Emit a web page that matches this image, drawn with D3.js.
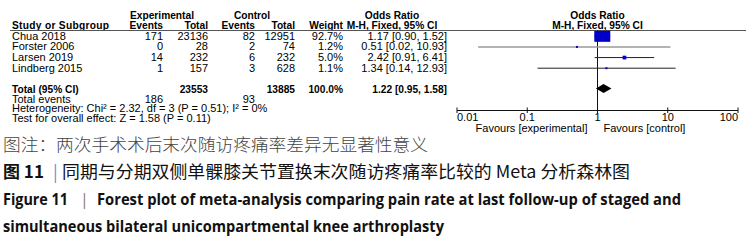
<!doctype html>
<html lang="zh">
<head>
<meta charset="utf-8">
<title>Forest plot</title>
<script src="https://cdn.jsdelivr.net/npm/d3@7/dist/d3.min.js"></script>
<style>
	body { margin: 0; background: #fff; }
	.tbl { font-family: "Liberation Sans", Arial, sans-serif; font-size: 11px; fill: #000; }
	.bold { font-weight: bold; font-size: 10.2px; }
	.cap { font-family: "Noto Sans CJK SC", sans-serif; }
	.en { font-family: "Open Sans", "Liberation Sans", sans-serif; font-weight: bold; }
</style>
</head>
<body>
<div id="viz"></div>
<script>

var studies = ["Chua 2018", "Forster 2006", "Larsen 2019", "Lindberg 2015"];
var expEvents = [171, 0, 14, 1];
var expTotal = [23136, 28, 232, 157];
var ctrlEvents = [82, 2, 6, 3];
var ctrlTotal = [12951, 74, 232, 628];
var weights = [92.7, 1.2, 5.0, 1.1];
var oddsRatio = [1.17, 0.51, 2.42, 1.34];
var ciLow = [0.90, 0.02, 0.91, 0.14];
var ciHigh = [1.52, 10.93, 6.41, 12.93];

var totalN = [23553, 13885];
var totalEvents = [186, 93];
var totalOR = [1.22, 0.95, 1.58];   // estimate, low, high
var heterogeneity = "Heterogeneity: Chi\u00b2 = 2.32, df = 3 (P = 0.51); I\u00b2 = 0%";
var overallTest = "Test for overall effect: Z = 1.58 (P = 0.11)";
var tickValues = [0.01, 0.1, 1, 10, 100];

var captions = [
	"图注：两次手术术后末次随访疼痛率差异无显著性意义",
	"同期与分期双侧单髁膝关节置换末次随访疼痛率比较的 Meta 分析森林图",
	"Forest plot of meta-analysis comparing pain rate at last follow-up of staged and",
	"simultaneous bilateral unicompartmental knee arthroplasty"
];

var w = 755, h = 247;

var svg = d3.select("#viz")
	.append("svg")
	.attr("width", w)
	.attr("height", h);

svg.append("rect").attr("width", w).attr("height", h).attr("fill", "#fff");

var x = d3.scaleLog().domain([0.01, 100]).range([457, 738]);
var rowY = d3.scaleBand().domain(studies).range([30.5, 73]);
var cy = d => rowY(d) + rowY.bandwidth() / 2;

var fmt2 = d3.format(".2f");
var ciText = (o, l, u) => fmt2(o) + " [" + fmt2(l) + ", " + fmt2(u) + "]";

// column right edges of the table
var cols = { expE: 163, expT: 208, ctlE: 255, ctlT: 295, wt: 343, or: 447 };
var orMid = 392;

var tbl = svg.append("g").attr("class", "tbl");

// headers
tbl.append("text").attr("class", "bold").attr("x", 162).attr("y", 18.5).attr("text-anchor", "middle").text("Experimental");
tbl.append("text").attr("class", "bold").attr("x", 252).attr("y", 18.5).attr("text-anchor", "middle").text("Control");
tbl.append("text").attr("class", "bold").attr("x", orMid).attr("y", 18.5).attr("text-anchor", "middle").text("Odds Ratio");
tbl.append("text").attr("class", "bold").attr("x", x(1)).attr("y", 18.5).attr("text-anchor", "middle").text("Odds Ratio");

tbl.append("text").attr("class", "bold").attr("x", 12).attr("y", 28.5).attr("letter-spacing", "0.3px").text("Study or Subgroup");
[["Events", cols.expE], ["Total", cols.expT], ["Events", cols.ctlE], ["Total", cols.ctlT], ["Weight", cols.wt]]
	.forEach(function(d) {
		tbl.append("text").attr("class", "bold").attr("x", d[1]).attr("y", 28.5).attr("text-anchor", "end").text(d[0]);
	});
tbl.append("text").attr("class", "bold").attr("x", orMid).attr("y", 28.5).attr("text-anchor", "middle").text("M-H, Fixed, 95% CI");
tbl.append("text").attr("class", "bold").attr("x", x(1)).attr("y", 28.5).attr("text-anchor", "middle").text("M-H, Fixed, 95% CI");

svg.append("line")
	.attr("x1", 10).attr("x2", 746).attr("y1", 30.5).attr("y2", 30.5)
	.attr("stroke", "#555").attr("stroke-width", 1);

// study rows
var rows = tbl.selectAll("g.row")
	.data(studies)
	.enter()
	.append("g")
	.attr("class", "row")
	.attr("transform", d => "translate(0," + (cy(d) + 4) + ")");

rows.append("text").attr("x", 12).text(d => d);
rows.append("text").attr("x", cols.expE).attr("text-anchor", "end").text((d, i) => expEvents[i]);
rows.append("text").attr("x", cols.expT).attr("text-anchor", "end").text((d, i) => expTotal[i]);
rows.append("text").attr("x", cols.ctlE).attr("text-anchor", "end").text((d, i) => ctrlEvents[i]);
rows.append("text").attr("x", cols.ctlT).attr("text-anchor", "end").text((d, i) => ctrlTotal[i]);
rows.append("text").attr("x", cols.wt).attr("text-anchor", "end").text((d, i) => weights[i].toFixed(1) + "%");
rows.append("text").attr("x", cols.or).attr("text-anchor", "end").text((d, i) => ciText(oddsRatio[i], ciLow[i], ciHigh[i]));

// total rows
var totY = 88.5;
tbl.append("text").attr("class", "bold").attr("x", 12).attr("y", totY + 4).text("Total (95% CI)");
tbl.append("text").attr("class", "bold").attr("x", cols.expT).attr("y", totY + 4).attr("text-anchor", "end").text(totalN[0]);
tbl.append("text").attr("class", "bold").attr("x", cols.ctlT).attr("y", totY + 4).attr("text-anchor", "end").text(totalN[1]);
tbl.append("text").attr("class", "bold").attr("x", cols.wt).attr("y", totY + 4).attr("text-anchor", "end").text(d3.sum(weights).toFixed(1) + "%");
tbl.append("text").attr("class", "bold").attr("x", cols.or).attr("y", totY + 4).attr("text-anchor", "end").text(ciText(totalOR[0], totalOR[1], totalOR[2]));

tbl.append("text").attr("x", 12).attr("y", 102.5).text("Total events");
tbl.append("text").attr("x", cols.expE).attr("y", 102.5).attr("text-anchor", "end").text(totalEvents[0]);
tbl.append("text").attr("x", cols.ctlE).attr("y", 102.5).attr("text-anchor", "end").text(totalEvents[1]);
tbl.append("text").attr("x", 12).attr("y", 112).text(heterogeneity);
tbl.append("text").attr("x", 12).attr("y", 121.5).text(overallTest);

// forest plot
var plot = svg.append("g");

plot.append("line")
	.attr("x1", x(1)).attr("x2", x(1)).attr("y1", 30.5).attr("y2", 110.5)
	.attr("stroke", "#111").attr("stroke-width", 1);

plot.selectAll("line.ci")
	.data(studies)
	.enter()
	.append("line")
	.attr("class", "ci")
	.attr("x1", (d, i) => x(ciLow[i]))
	.attr("x2", (d, i) => x(ciHigh[i]))
	.attr("y1", d => cy(d) + 0.5)
	.attr("y2", d => cy(d) + 0.5)
	.attr("stroke", (d, i) => i === 1 ? "#9a9a9a" : "#222")
	.attr("stroke-width", (d, i) => i === 1 ? 1.6 : 1);

// box area follows the weight, clipped to the row height
var boxSide = d3.scaleSqrt().domain([0, 92.7]).range([0, 16]);
var side = (i) => Math.max(boxSide(weights[i]), 2);
plot.selectAll("rect.box")
	.data(studies)
	.enter()
	.append("rect")
	.attr("class", "box")
	.attr("x", (d, i) => x(oddsRatio[i]) - side(i) / 2)
	.attr("width", (d, i) => side(i))
	.attr("y", (d, i) => cy(d) + 0.5 - Math.min(side(i), 11) / 2)
	.attr("height", (d, i) => Math.min(side(i), 11))
	.attr("fill", "#0000c8");

plot.append("path")
	.attr("d", "M" + x(totalOR[1]) + "," + totY + "L" + x(totalOR[0]) + "," + (totY - 4.5) +
		"L" + x(totalOR[2]) + "," + totY + "L" + x(totalOR[0]) + "," + (totY + 4.5) + "Z")
	.attr("fill", "#000");

// axis
var axisY = 110.5;
plot.append("line")
	.attr("x1", x(0.01)).attr("x2", x(100)).attr("y1", axisY).attr("y2", axisY)
	.attr("stroke", "#111");
plot.selectAll("line.tick")
	.data(tickValues)
	.enter()
	.append("line")
	.attr("class", "tick")
	.attr("x1", d => x(d)).attr("x2", d => x(d))
	.attr("y1", axisY - 3).attr("y2", axisY + 2.5)
	.attr("stroke", "#111");
plot.selectAll("text.tick")
	.data(tickValues)
	.enter()
	.append("text")
	.attr("class", "tbl")
	.attr("x", d => x(d))
	.attr("y", 121)
	.attr("font-size", "10px")
	.attr("text-anchor", (d, i) => i === 0 ? "start" : i === tickValues.length - 1 ? "end" : "middle")
	.text(d => d);

plot.append("text").attr("class", "tbl").attr("x", x(1) - 10).attr("y", 131.5).attr("text-anchor", "end").attr("font-size", "10.6px").text("Favours [experimental]");
plot.append("text").attr("class", "tbl").attr("x", x(1) + 6).attr("y", 131.5).attr("font-size", "10.6px").text("Favours [control]");

// captions
svg.append("text").attr("class", "cap")
	.attr("x", 3).attr("y", 151).attr("font-size", "17px").attr("font-weight", 300)
	.attr("fill", "#444").attr("textLength", 425).attr("lengthAdjust", "spacingAndGlyphs")
	.text(captions[0]);

var c2 = svg.append("text").attr("class", "cap")
	.attr("x", 3).attr("y", 178).attr("font-size", "17px").attr("fill", "#111");
c2.append("tspan").attr("font-weight", "bold").text("图 11");
c2.append("tspan").attr("x", 53).attr("fill", "#5b8fd0").text("|");
c2.append("tspan").attr("x", 62).attr("textLength", 568).attr("lengthAdjust", "spacingAndGlyphs").text(captions[1]);

var c3 = svg.append("text").attr("class", "en")
	.attr("x", 3).attr("y", 204.5).attr("font-size", "16px").attr("fill", "#111");
c3.append("tspan").attr("textLength", 65).attr("lengthAdjust", "spacingAndGlyphs").text("Figure 11");
c3.append("tspan").attr("x", 80).attr("font-weight", "normal").attr("fill", "#8a7a6a").text("|");
c3.append("tspan").attr("x", 97).attr("textLength", 584).attr("lengthAdjust", "spacingAndGlyphs").text(captions[2]);

svg.append("text").attr("class", "en")
	.attr("x", 3).attr("y", 232).attr("font-size", "16px").attr("fill", "#111")
	.attr("textLength", 441).attr("lengthAdjust", "spacingAndGlyphs")
	.text(captions[3]);

</script>
</body>
</html>
